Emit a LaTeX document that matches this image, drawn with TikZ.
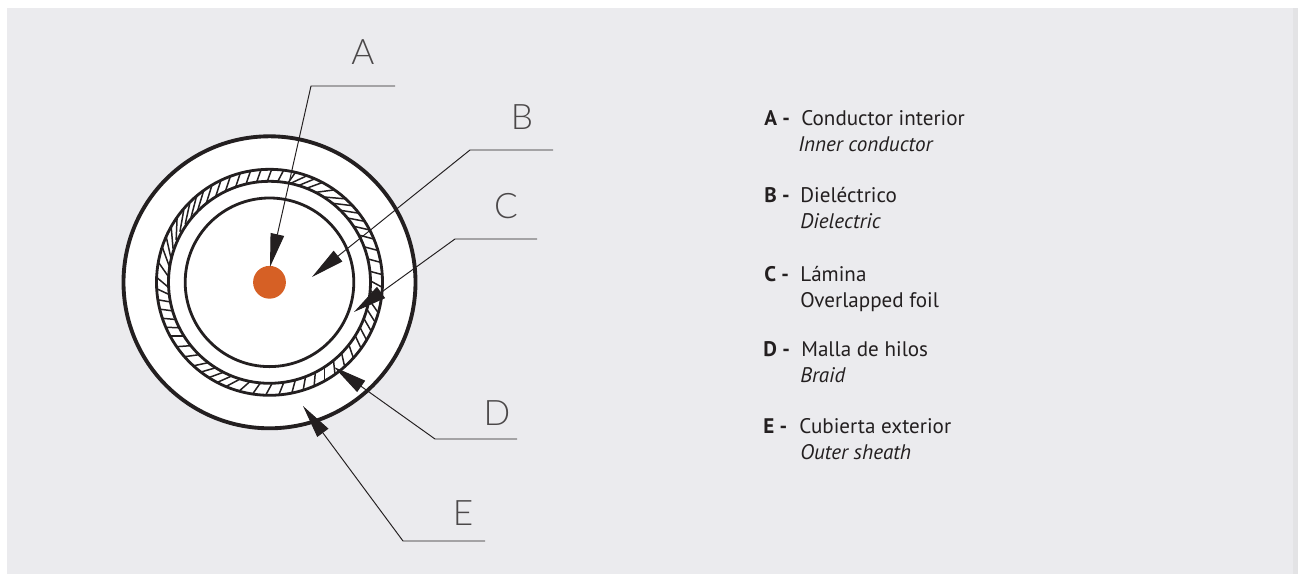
\documentclass[tikz,border=0pt]{standalone}
\usepackage{fontspec}
\setmainfont{PT Sans}
\newfontfamily\thinfont{Lato Light}
\usetikzlibrary{arrows.meta}
\definecolor{panel}{HTML}{EBEBEE}
\definecolor{strip}{HTML}{E3E3E5}
\definecolor{ink}{HTML}{231F20}
\definecolor{core}{HTML}{D66025}
\tikzset{
  x=0.02cm,y=-0.02cm,
  sheath/.style={draw=ink,line width=2.2pt,fill=white},
  ringline/.style={draw=ink,line width=1.6pt},
  hatchline/.style={draw=ink,line width=0.85pt},
  leader/.style={draw=ink,line width=0.55pt,-{Triangle[length=19pt,width=7.8pt]}},
  letter/.style={font=\thinfont\fontsize{20}{20}\selectfont,text=ink!80!panel,inner sep=0pt,anchor=base},
  legend/.style={font=\fontsize{12}{13}\selectfont,text=ink,inner sep=0pt,anchor=base west},
  legendi/.style={legend,font=\fontsize{12}{13}\selectfont\itshape},
  legendb/.style={legend,font=\fontsize{12}{13}\selectfont\bfseries},
}
\begin{document}
\begin{tikzpicture}
\useasboundingbox (0,0) rectangle (1298,574);
\fill[strip] (7,8) rectangle (1298,574);
\fill[panel] (7,8) rectangle (1293,574);
% cable
\path[sheath] (269.5,282.3) circle (146);
\begin{scope}
\clip (269.5,282.3) circle (113);
\foreach \aa/\da/\ab/\db/\n in {
  90/70/78/55/2, 78/55/74/25/1, 74/25/65/20/2, 65/20/52/-5/2, 52/-5/25/-15/5,
  25/-15/5/-15/3, 5/-15/-13/-55/3, -13/-55/-34/-65/4, -34/-65/-59/-90/4,
  -59/-90/-77/-105/3, -77/-105/-97/-125/3, -97/-125/-110/-152/2, -110/-152/-130/-168/4,
  -130/-168/-150/-180/3, -150/-180/-170/-190/4, -170/-190/-180/-220/2,
  -180/-220/-194/-250/2, -194/-250/-215/-280/4, -215/-280/-230/-287/3, -230/-287/-270/-290/7}{
  \foreach \i in {1,...,\n}{
    \pgfmathsetmacro{\t}{(\i-1)/\n}
    \pgfmathsetmacro{\ang}{\aa+(\ab-\aa)*\t}
    \pgfmathsetmacro{\dir}{\da+(\db-\da)*\t}
    \pgfmathsetmacro{\mx}{269.5+107*cos(\ang)}
    \pgfmathsetmacro{\my}{282.3-107*sin(\ang)}
    \draw[hatchline] ({\mx-11*cos(\dir)},{\my+11*sin(\dir)}) -- ({\mx+11*cos(\dir)},{\my-11*sin(\dir)});
  }
}
\end{scope}
\path[ringline,fill=white] (269.5,282.3) circle (101);
\path[ringline] (269.5,282.3) circle (113);
\path[ringline] (269.5,282.3) circle (84.3);
\fill[core] (269.5,282.3) circle (16.4);
% letters
\node[letter] (lA) at (363,65) {A};
\node[letter] (lB) at (522,130) {B};
\node[letter] (lC) at (506,219) {C};
\node[letter] (lD) at (497,425) {D};
\node[letter] (lE) at (463,525) {E};
% leaders
\coordinate (eA) at (395,86);   \coordinate (kA) at (311,86);   \coordinate (tA) at (270,267);
\coordinate (eB) at (553,150);  \coordinate (kB) at (470,150);  \coordinate (tB) at (312,277);
\coordinate (eC) at (537,239);  \coordinate (kC) at (455,239);  \coordinate (tC) at (354,312);
\coordinate (eD) at (517,439);  \coordinate (kD) at (435,439);  \coordinate (tD) at (334,367);
\coordinate (eE) at (485,541);  \coordinate (kE) at (403,541);  \coordinate (tE) at (303,406);
\draw[leader] (eA) -- (kA) -- (tA);
\draw[leader] (eB) -- (kB) -- (tB);
\draw[leader] (eC) -- (kC) -- (tC);
\draw[leader] (eD) -- (kD) -- (tD);
\draw[leader] (eE) -- (kE) -- (tE);
% legend
\node[legendb] (a0) at (764,126) {A -};
\node[legend]  (a1) at (801,126) {Conductor interior};
\node[legendi] (a2) at (798,152) {Inner conductor};
\node[legendb] (b0) at (764,203) {B -};
\node[legend]  (b1) at (800,203) {Dieléctrico};
\node[legendi] (b2) at (800,229) {Dielectric};
\node[legendb] (c0) at (764,281) {C -};
\node[legend]  (c1) at (800,281) {Lámina};
\node[legend]  (c2) at (800,307) {Overlapped foil};
\node[legendb] (d0) at (763,356) {D -};
\node[legend]  (d1) at (801,356) {Malla de hilos};
\node[legendi] (d2) at (800,382) {Braid};
\node[legendb] (e0) at (763,433) {E -};
\node[legend]  (e1) at (799,433) {Cubierta exterior};
\node[legendi] (e2) at (800,459) {Outer sheath};
\end{tikzpicture}
\end{document}
